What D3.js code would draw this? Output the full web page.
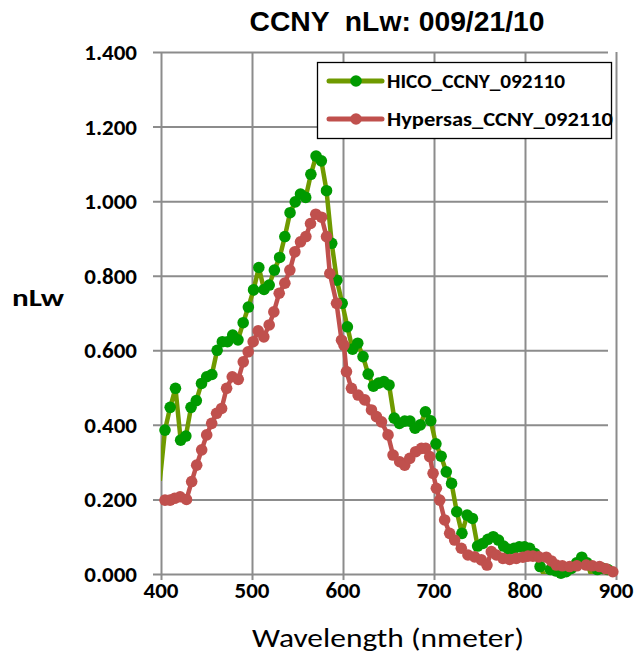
<!DOCTYPE html>
<html>
<head>
<meta charset="utf-8">
<script src="https://cdn.jsdelivr.net/npm/d3@7"></script>
<style>
  body { margin: 0; background: #fff; }
  svg { display: block; }
</style>
</head>
<body>
<div id="chart"></div>
<script>
var titleText = "CCNY  nLw: 009/21/10";
var seriesNames = ["HICO_CCNY_092110", "Hypersas_CCNY_092110"];
var xTicks = [400, 500, 600, 700, 800, 900];
var yTicks = [0, 0.2, 0.4, 0.6, 0.8, 1.0, 1.2, 1.4];

var hicoWl = [398.7, 404.4, 410.1, 415.9, 421.6, 427.3, 433.0, 438.8, 444.5, 450.2, 455.9,
    461.7, 467.4, 473.1, 478.8, 484.6, 490.3, 496.0, 501.7, 507.5, 513.2, 518.9, 524.6,
    530.4, 536.1, 541.8, 547.5, 553.3, 559.0, 564.7, 570.4, 576.2, 581.9, 587.6, 593.3,
    599.1, 604.8, 610.5, 616.2, 622.0, 627.7, 633.4, 639.1, 644.9, 650.6, 656.3, 662.0,
    667.8, 673.5, 679.2, 684.9, 690.6, 696.4, 702.1, 707.8, 713.5, 719.3, 725.0, 730.7,
    736.4, 742.2, 747.9, 753.6, 759.3, 765.1, 770.8, 776.5, 782.2, 788.0, 793.7, 799.4,
    805.1, 810.9, 816.6, 822.3, 828.0, 833.8, 839.5, 845.2, 850.9, 856.7, 862.4, 868.1,
    873.8, 879.5, 885.3, 891.0];
var hicoVal = [0.25, 0.386, 0.447, 0.498, 0.359, 0.370, 0.447, 0.465, 0.511, 0.529, 0.535,
    0.600, 0.623, 0.623, 0.641, 0.628, 0.674, 0.716, 0.762, 0.822, 0.763, 0.775, 0.815,
    0.849, 0.905, 0.969, 0.998, 1.019, 1.010, 1.072, 1.121, 1.108, 1.028, 0.887, 0.788,
    0.726, 0.663, 0.603, 0.619, 0.583, 0.536, 0.504, 0.512, 0.516, 0.507, 0.418, 0.404,
    0.410, 0.410, 0.391, 0.400, 0.435, 0.411, 0.349, 0.316, 0.274, 0.243, 0.167, 0.109,
    0.158, 0.149, 0.075, 0.082, 0.093, 0.100, 0.091, 0.075, 0.066, 0.069, 0.073, 0.073,
    0.069, 0.055, 0.020, -0.010, 0.012, 0.008, 0.002, 0.006, 0.015, 0.030, 0.045, 0.030,
    -0.010, 0.012, 0.015, 0.012];

var hyperWl = [404.4, 410.0, 415.0, 421.0, 428.0, 433.7, 439.2, 444.7, 450.2, 455.7, 461.1,
    466.6, 472.1, 478.3, 484.9, 490.4, 495.8, 501.3, 506.8, 513.0, 518.9, 524.0, 529.9,
    536.1, 541.6, 547.1, 553.3, 559.2, 564.3, 570.1, 576.4, 581.9, 585.5, 592.9, 598.4,
    601.0, 603.8, 609.3, 616.6, 623.9, 631.3, 636.8, 642.3, 649.5, 655.0, 662.3, 667.8,
    673.3, 679.9, 686.2, 690.9, 695.3, 699.0, 702.6, 706.3, 711.7, 717.2, 722.7, 730.0,
    737.3, 744.7, 752.0, 758.2, 763.0, 768.5, 775.7, 783.1, 790.4, 797.7, 803.2, 808.7,
    815.0, 823.4, 829.0, 834.4, 841.0, 849.0, 857.0, 867.3, 874.0, 881.9, 889.0, 896.5];
var hyperVal = [0.198, 0.198, 0.203, 0.207, 0.200, 0.248, 0.292, 0.333, 0.373, 0.404, 0.431,
    0.444, 0.498, 0.529, 0.522, 0.569, 0.596, 0.623, 0.652, 0.636, 0.668, 0.703, 0.753,
    0.780, 0.815, 0.864, 0.891, 0.905, 0.940, 0.965, 0.957, 0.905, 0.806, 0.726, 0.627,
    0.614, 0.543, 0.498, 0.480, 0.467, 0.440, 0.422, 0.408, 0.373, 0.319, 0.301, 0.292,
    0.310, 0.328, 0.337, 0.337, 0.315, 0.270, 0.230, 0.198, 0.145, 0.109, 0.091, 0.069,
    0.051, 0.046, 0.038, 0.024, 0.060, 0.051, 0.042, 0.039, 0.042, 0.045, 0.048, 0.048,
    0.046, 0.045, 0.035, 0.024, 0.022, 0.020, 0.022, 0.024, 0.022, 0.020, 0.014, 0.006];

var CHART = (function(d3) {
    var width = 637, height = 657,
        left = 161, right = 616, top = 52, bottom = 574,
        font = "Carlito, Lato, 'Liberation Sans', sans-serif",
        gridColor = "#8c8c8c";

    var series = [
        { name: seriesNames[0], wl: hicoWl, val: hicoVal, line: "#6f9a00", dot: "#009a00", len: 178 },
        { name: seriesNames[1], wl: hyperWl, val: hyperVal, line: "#c0504d", dot: "#c0504d", len: 226 }
    ];

    var draw = function() {
        var svg = d3.select("#chart")
            .append("svg")
            .attr("width", width)
            .attr("height", height);

        var x = d3.scaleLinear().domain([400, 900]).range([left, right]);
        var y = d3.scaleLinear().domain([0, 1.4]).range([bottom, top]);

        svg.append("defs").append("clipPath")
            .attr("id", "plot")
            .append("rect")
            .attr("x", left).attr("y", top)
            .attr("width", right - left).attr("height", bottom - top);

        // grid lines + axes, Excel style
        svg.append("g")
            .attr("transform", "translate(" + left + ",0)")
            .call(d3.axisLeft(y).tickValues(yTicks).tickSize(8).tickFormat(""))
            .call(function(g) { g.select(".domain").remove(); })
            .selectAll("line")
            .attr("x2", right - left)
            .attr("transform", "translate(-8,0)")
            .attr("stroke", gridColor)
            .attr("stroke-width", 2);

        svg.append("g")
            .attr("transform", "translate(0," + bottom + ")")
            .call(d3.axisBottom(x).tickValues(xTicks).tickSize(0).tickFormat(""))
            .call(function(g) { g.select(".domain").remove(); })
            .selectAll("line")
            .attr("y1", 6)
            .attr("y2", top - bottom)
            .attr("stroke", gridColor)
            .attr("stroke-width", 2);

        svg.append("g").selectAll("text")
            .data(yTicks)
            .enter()
            .append("text")
            .attr("x", 137)
            .attr("y", function(d) { return y(d) + 8; })
            .attr("text-anchor", "end")
            .style("font", "bold 23px " + font)
            .text(function(d) { return d3.format(".3f")(d); });

        svg.append("g").selectAll("text")
            .data(xTicks)
            .enter()
            .append("text")
            .attr("x", function(d) { return x(d); })
            .attr("y", 598)
            .attr("text-anchor", "middle")
            .style("font", "bold 23px " + font)
            .text(function(d) { return d; });

        var lineGen = function(s) {
            return d3.line()
                .x(function(i) { return x(s.wl[i]); })
                .y(function(i) { return y(s.val[i]); })(d3.range(s.wl.length));
        };

        series.forEach(function(s) {
            var g = svg.append("g");
            g.append("path")
                .attr("d", lineGen(s))
                .attr("clip-path", "url(#plot)")
                .attr("fill", "none")
                .attr("stroke", s.line)
                .attr("stroke-width", 4.5)
                .attr("stroke-linejoin", "round");

            g.selectAll("circle")
                .data(d3.range(s.wl.length).filter(function(i) {
                    return s.wl[i] >= 400 && s.val[i] >= 0;
                }))
                .enter()
                .append("circle")
                .attr("cx", function(i) { return x(s.wl[i]); })
                .attr("cy", function(i) { return y(s.val[i]); })
                .attr("r", 5.8)
                .attr("fill", s.dot);
        });

        // legend
        var lg = svg.append("g");
        lg.append("rect")
            .attr("x", 317.5).attr("y", 62.5)
            .attr("width", 294).attr("height", 76)
            .attr("fill", "#fff")
            .attr("stroke", "#000")
            .attr("stroke-width", 1.3);

        series.forEach(function(s, k) {
            var ly = 81 + k * 38;
            lg.append("line")
                .attr("x1", 329).attr("x2", 382)
                .attr("y1", ly).attr("y2", ly)
                .attr("stroke", s.line)
                .attr("stroke-width", 5)
                .attr("stroke-linecap", "round");
            lg.append("circle")
                .attr("cx", 356).attr("cy", ly)
                .attr("r", 5.8)
                .attr("fill", s.dot);
            lg.append("text")
                .attr("x", 387).attr("y", ly + 7)
                .attr("textLength", s.len)
                .attr("lengthAdjust", "spacingAndGlyphs")
                .style("font", "bold 20px " + font)
                .text(s.name);
        });

        svg.append("text")
            .attr("x", 397).attr("y", 31)
            .attr("text-anchor", "middle")
            .attr("textLength", 295)
            .attr("lengthAdjust", "spacingAndGlyphs")
            .style("white-space", "pre")
            .style("font", "bold 27px 'Liberation Sans Narrow', 'Liberation Sans', sans-serif")
            .text(titleText);

        svg.append("text")
            .attr("x", 38).attr("y", 306)
            .attr("text-anchor", "middle")
            .attr("textLength", 52)
            .attr("lengthAdjust", "spacingAndGlyphs")
            .style("font", "bold 24px " + font)
            .text("nLw");

        svg.append("text")
            .attr("x", 388).attr("y", 647)
            .attr("text-anchor", "middle")
            .attr("textLength", 272)
            .attr("lengthAdjust", "spacingAndGlyphs")
            .style("font", "27px " + font)
            .text("Wavelength (nmeter)");
    };

    return { draw: draw };
})(d3);

CHART.draw();
</script>
</body>
</html>
